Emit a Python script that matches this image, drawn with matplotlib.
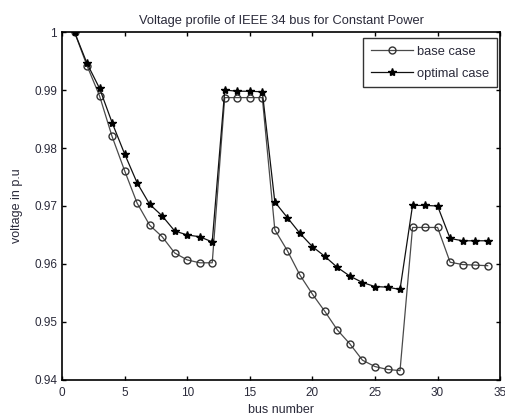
#!/usr/bin/env python3
import matplotlib
matplotlib.use('Agg')
import matplotlib.pyplot as plt
import numpy as np

plt.rcParams['font.family'] = ['Liberation Sans', 'DejaVu Sans']

bus = list(range(1, 35))

base_case = [1.0, 0.9942, 0.989, 0.982, 0.9761, 0.9705, 0.9667, 0.9647,
             0.9619, 0.9607, 0.9602, 0.9602, 0.9887, 0.9887, 0.9887, 0.9887,
             0.9659, 0.9623, 0.9581, 0.9548, 0.9518, 0.9486, 0.9462, 0.9434,
             0.9423, 0.9418, 0.9416, 0.9663, 0.9663, 0.9663, 0.9603, 0.9599,
             0.9598, 0.9597]
optimal_case = [1.0, 0.9946, 0.9903, 0.9844, 0.979, 0.974, 0.9703, 0.9683,
                0.9657, 0.965, 0.9647, 0.9638, 0.990, 0.9898, 0.9898, 0.9897,
                0.9707, 0.968, 0.9653, 0.963, 0.9613, 0.9594, 0.9579, 0.9568,
                0.9561, 0.956, 0.9556, 0.9701, 0.9701, 0.970, 0.9644, 0.964,
                0.964, 0.964]

x_ticks = [0, 5, 10, 15, 20, 25, 30, 35]
y_ticks = [0.94, 0.95, 0.96, 0.97, 0.98, 0.99, 1.0]
y_tick_labels = ['0.94', '0.95', '0.96', '0.97', '0.98', '0.99', '1']

text_color = '#2a2a3a'

fig = plt.figure(figsize=(5.06, 4.17), dpi=100)
ax = fig.add_axes([0.1225, 0.089, 0.866, 0.834])

ax.plot(bus, base_case, '-o', color='#4a4a4a', linewidth=0.9,
        markersize=5, markerfacecolor='none', markeredgecolor='#333333',
        markeredgewidth=1.0, label='base case')
ax.plot(bus, optimal_case, '-*', color='#111111', linewidth=0.9,
        markersize=6, markerfacecolor='black', markeredgecolor='black',
        label='optimal case')

ax.set_xlim(0, 35)
ax.set_ylim(0.94, 1.0)
ax.set_xticks(x_ticks)
ax.set_yticks(y_ticks)
ax.set_yticklabels(y_tick_labels)
ax.tick_params(direction='in', top=True, right=True, length=3,
               labelsize=8.5, colors='black', labelcolor=text_color, width=1)
ax.tick_params(axis='x', pad=5)
for spine in ax.spines.values():
    spine.set_linewidth(1.2)

ax.set_title('Voltage profile of IEEE 34 bus for Constant Power',
             fontsize=9.3, color=text_color, pad=6)
ax.set_xlabel('bus number', fontsize=9, color=text_color, labelpad=4)
ax.set_ylabel('voltage in p.u', fontsize=9, color=text_color, labelpad=8)

leg = ax.legend(loc='upper right', bbox_to_anchor=(0.993, 0.983),
                fontsize=9.3, frameon=True, fancybox=False,
                borderaxespad=0.0, handlelength=3.3, borderpad=0.6,
                labelspacing=0.75, handletextpad=0.3)
leg.get_frame().set_edgecolor('black')
leg.get_frame().set_linewidth(1.0)
for t in leg.get_texts():
    t.set_color(text_color)

plt.savefig('out.png', dpi=100)
plt.close()
